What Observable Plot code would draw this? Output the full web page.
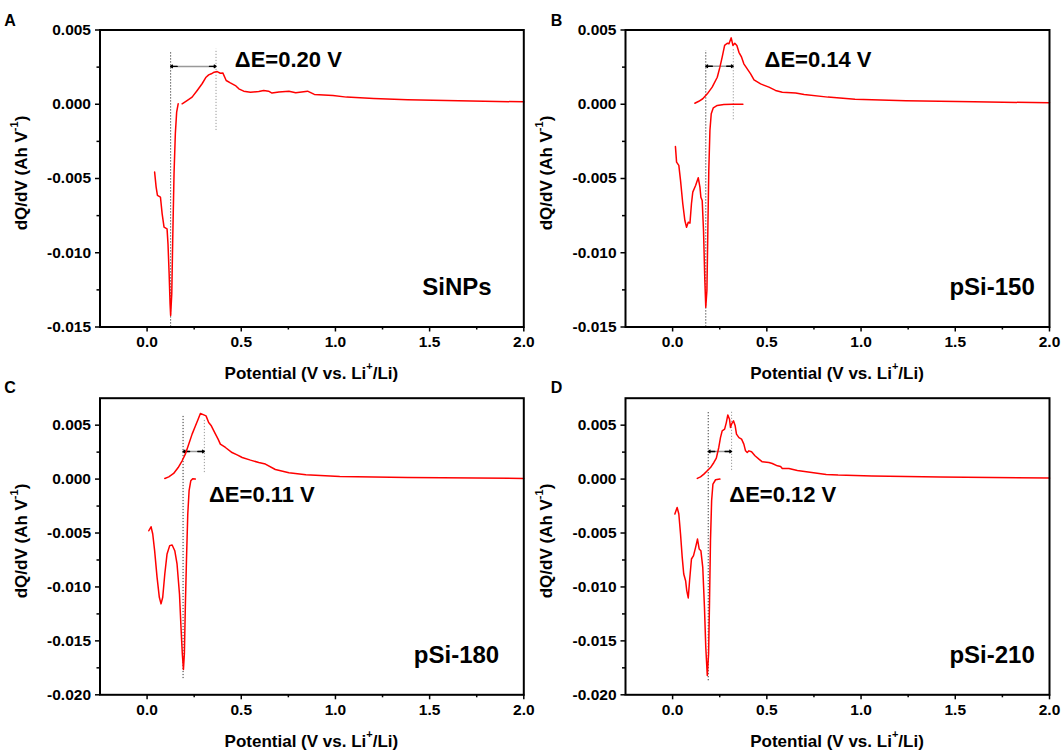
<!DOCTYPE html>
<html><head><meta charset="utf-8">
<script src="https://cdn.jsdelivr.net/npm/d3@7"></script>
<script src="https://cdn.jsdelivr.net/npm/@observablehq/plot@0.6"></script>
<style>
body{margin:0;background:#fff;}
#wrap{position:relative;width:1064px;height:754px;overflow:hidden;background:#fff;}
.panel{position:absolute;}
.panel svg{background:transparent !important;overflow:visible;}
</style></head><body><div id="wrap"></div>
<script>
// ---- data (V vs. Li+/Li, dQ/dV in Ah V^-1) ----
const panelIds = ["A", "B", "C", "D"];
const sampleNames = ["SiNPs", "pSi-150", "pSi-180", "pSi-210"];
const deltaLabels = ["ΔE=0.20 V", "ΔE=0.14 V", "ΔE=0.11 V", "ΔE=0.12 V"];
const xTicks = [0, 0.5, 1.0, 1.5, 2.0];
const xMinor = [0.25, 0.75, 1.25, 1.75];
const yTicksTop = [-0.015, -0.010, -0.005, 0, 0.005];
const yMinorTop = [-0.0125, -0.0075, -0.0025, 0.0025];
const yTicksBottom = [-0.020, -0.015, -0.010, -0.005, 0, 0.005];
const yMinorBottom = [-0.0175, -0.0125, -0.0075, -0.0025, 0.0025];

const dischargeA = [[0.040,-0.00457],[0.048,-0.00558],[0.055,-0.00614],[0.071,-0.00626],[0.080,-0.00738],[0.090,-0.00828],[0.106,-0.00839],[0.111,-0.0094],[0.117,-0.0114],[0.122,-0.01344],[0.125,-0.01422],[0.131,-0.01277],[0.136,-0.00918],[0.143,-0.00469],[0.150,-0.00199],[0.157,-0.00053],[0.165,0.00003]];
const chargeA = [[0.186,0.00003],[0.212,0.00025],[0.239,0.00048],[0.266,0.00093],[0.292,0.00138],[0.313,0.00182],[0.327,0.00198],[0.341,0.00205],[0.356,0.00216],[0.372,0.0022],[0.389,0.00209],[0.402,0.00211],[0.420,0.0016],[0.442,0.00144],[0.469,0.00126],[0.487,0.00104],[0.513,0.00088],[0.549,0.00081],[0.593,0.00086],[0.619,0.00093],[0.645,0.00088],[0.663,0.00075],[0.700,0.00083],[0.753,0.00088],[0.789,0.00077],[0.852,0.00088],[0.888,0.00066],[0.987,0.00059],[1.059,0.00048],[1.203,0.00039],[1.383,0.0003],[1.654,0.00023],[2.0,0.00016]];

const dischargeB = [[0.015,-0.00285],[0.021,-0.0039],[0.033,-0.00412],[0.042,-0.00513],[0.054,-0.0067],[0.065,-0.00783],[0.074,-0.00828],[0.083,-0.00794],[0.092,-0.00801],[0.100,-0.0067],[0.107,-0.00592],[0.122,-0.00547],[0.136,-0.00495],[0.145,-0.00558],[0.150,-0.00626],[0.157,-0.00648],[0.164,-0.0085],[0.171,-0.01187],[0.176,-0.01367],[0.182,-0.01254],[0.187,-0.0085],[0.192,-0.00446],[0.198,-0.00177],[0.205,-0.00064],[0.216,-0.00024],[0.237,-0.00008],[0.272,-0.00002],[0.316,0],[0.373,0]];
const chargeB = [[0.118,0.00007],[0.139,0.0002],[0.160,0.00037],[0.184,0.0007],[0.210,0.00115],[0.237,0.00182],[0.251,0.0025],[0.263,0.00317],[0.276,0.00396],[0.290,0.00411],[0.299,0.00407],[0.311,0.00447],[0.320,0.00396],[0.330,0.00411],[0.341,0.00396],[0.352,0.0035],[0.366,0.00317],[0.378,0.00272],[0.396,0.00238],[0.414,0.00205],[0.432,0.00164],[0.467,0.00137],[0.511,0.00115],[0.546,0.00093],[0.582,0.00081],[0.653,0.00075],[0.698,0.00066],[0.824,0.00048],[0.968,0.00034],[1.238,0.00023],[1.598,0.00016],[2.0,0.0001]];

const dischargeC = [[0.009,-0.00479],[0.021,-0.00442],[0.030,-0.00509],[0.040,-0.00664],[0.053,-0.00911],[0.065,-0.01096],[0.074,-0.01157],[0.083,-0.01096],[0.094,-0.0088],[0.106,-0.00694],[0.120,-0.00617],[0.133,-0.00611],[0.147,-0.00664],[0.159,-0.00787],[0.172,-0.01065],[0.180,-0.01374],[0.187,-0.0162],[0.193,-0.01765],[0.198,-0.0162],[0.203,-0.01189],[0.209,-0.00756],[0.216,-0.00324],[0.223,-0.00108],[0.232,-0.00016],[0.242,0.00003],[0.256,0]];
const chargeC = [[0.094,0.00006],[0.115,0.00021],[0.141,0.00052],[0.165,0.00107],[0.186,0.0017],[0.203,0.00231],[0.221,0.00324],[0.239,0.00417],[0.257,0.00494],[0.271,0.00555],[0.283,0.00608],[0.301,0.00595],[0.313,0.00586],[0.327,0.00524],[0.341,0.00494],[0.359,0.00431],[0.377,0.0037],[0.389,0.00324],[0.416,0.00293],[0.451,0.00246],[0.478,0.00225],[0.505,0.002],[0.549,0.00176],[0.593,0.00154],[0.628,0.00139],[0.681,0.00089],[0.753,0.00058],[0.843,0.0004],[1.023,0.00024],[1.383,0.00015],[2.0,0.00006]];

const dischargeD = [[0.012,-0.00324],[0.024,-0.00263],[0.033,-0.00324],[0.042,-0.00509],[0.051,-0.00726],[0.059,-0.0088],[0.069,-0.00942],[0.075,-0.01034],[0.083,-0.01102],[0.090,-0.00942],[0.100,-0.00741],[0.111,-0.0071],[0.122,-0.00633],[0.132,-0.00556],[0.141,-0.00648],[0.150,-0.00664],[0.160,-0.00818],[0.169,-0.01189],[0.176,-0.01559],[0.184,-0.01821],[0.191,-0.0162],[0.196,-0.01127],[0.201,-0.00571],[0.207,-0.00201],[0.214,-0.00046],[0.228,-0.00006],[0.251,0]];
const chargeD = [[0.131,0.00006],[0.148,0.00021],[0.166,0.00046],[0.184,0.00077],[0.201,0.00107],[0.219,0.00154],[0.232,0.00194],[0.245,0.00293],[0.254,0.00385],[0.263,0.00447],[0.276,0.00463],[0.285,0.00524],[0.293,0.00595],[0.302,0.00555],[0.307,0.00478],[0.314,0.00515],[0.323,0.0054],[0.332,0.00494],[0.339,0.00417],[0.352,0.00385],[0.366,0.0037],[0.378,0.00324],[0.387,0.00262],[0.396,0.00246],[0.405,0.00262],[0.419,0.00253],[0.437,0.00216],[0.458,0.00185],[0.476,0.0016],[0.511,0.00154],[0.529,0.00144],[0.556,0.00123],[0.573,0.00117],[0.582,0.00098],[0.617,0.00098],[0.662,0.0008],[0.815,0.00043],[0.878,0.00037],[1.058,0.00028],[1.419,0.00019],[2.0,0.00009]];

// peak potentials [reduction, oxidation]
const peaks = [[0.125, 0.366], [0.176, 0.322], [0.191, 0.304], [0.189, 0.313]];
// vertical extent of the dotted guide at the reduction / oxidation peak
const redGuide = [[-0.015, 0.0035], [-0.015, 0.0036], [-0.0185, 0.0059], [-0.0187, 0.0062]];
const oxGuide = [[-0.00177, 0.0037], [-0.00105, 0.0038], [0.0006, 0.0056], [0.0008, 0.0063]];
const arrowLevel = [0.00255, 0.00256, 0.00256, 0.00256];
const deltaAnchor = [[0.466, 0.0030], [0.488, 0.0030], [0.329, -0.00148], [0.301, -0.00148]];
const nameAnchor = [[1.461, -0.01232], [1.469, -0.01232], [1.416, -0.01633], [1.469, -0.01633]];

const discharges = [dischargeA, dischargeB, dischargeC, dischargeD];
const charges = [chargeA, chargeB, chargeC, chargeD];

// ---- layout ----
const W = 532, H = 377;
const FONT = "'Liberation Sans', Arial, Helvetica, sans-serif";
const layout = [
  {left: 0, top: 0, ml: 99.5, mr: 8.7, mt: 29.5, mb: 50.5, yDomain: [-0.015, 0.005], yT: yTicksTop, yM: yMinorTop, letterX: 10, letterY: 26},
  {left: 532, top: 0, ml: 93, mr: 15, mt: 29.5, mb: 50.5, yDomain: [-0.015, 0.005], yT: yTicksTop, yM: yMinorTop, letterX: 24.5, letterY: 26},
  {left: 0, top: 377, ml: 99.5, mr: 8.7, mt: 20.7, mb: 59.7, yDomain: [-0.020, 0.0075], yT: yTicksBottom, yM: yMinorBottom, letterX: 10, letterY: 16},
  {left: 532, top: 377, ml: 93, mr: 15, mt: 20.7, mb: 59.7, yDomain: [-0.020, 0.0075], yT: yTicksBottom, yM: yMinorBottom, letterX: 24.5, letterY: 16}
];

const wrap = document.getElementById("wrap");

layout.forEach((L, i) => {
  const [pr, po] = peaks[i];
  const guides = [{x: pr, y1: redGuide[i][0], y2: redGuide[i][1]}];
  const guides2 = [{x: po, y1: oxGuide[i][0], y2: oxGuide[i][1]}];
  const ay = arrowLevel[i];
  const heads = [
    {x1: pr + 0.035, x2: pr, y: ay},
    {x1: po - 0.035, x2: po, y: ay}
  ];
  const svg = Plot.plot({
    width: W, height: H,
    marginLeft: L.ml, marginRight: L.mr, marginTop: L.mt, marginBottom: L.mb,
    x: {domain: [-0.25, 2.0]},
    y: {domain: L.yDomain},
    style: {fontFamily: FONT, fontSize: "15.5px", fontWeight: "bold", color: "#000", background: "transparent", overflow: "visible"},
    marks: [
      Plot.axisX({ticks: xTicks, tickSize: 5, tickPadding: 4, strokeWidth: 1.5, tickFormat: d => d.toFixed(1), label: null}),
      Plot.axisX({ticks: xMinor, tickSize: 3, strokeWidth: 1.5, tickFormat: () => "", label: null}),
      Plot.axisY({ticks: L.yT, tickSize: 4.5, tickPadding: 4.5, strokeWidth: 1.5, tickFormat: d => d.toFixed(3), label: null}),
      Plot.axisY({ticks: L.yM, tickSize: 3, strokeWidth: 1.5, tickFormat: () => "", label: null}),
      Plot.ruleX(guides, {x: "x", y1: "y1", y2: "y2", stroke: "#333", strokeWidth: 1, strokeDasharray: "1.2,1.8"}),
      Plot.ruleX(guides2, {x: "x", y1: "y1", y2: "y2", stroke: "#999", strokeWidth: 1, strokeDasharray: "1.2,1.8"}),
      Plot.ruleY([{x1: pr, x2: po, y: ay}], {x1: "x1", x2: "x2", y: "y", stroke: "#999", strokeWidth: 1.5}),
      Plot.arrow(heads, {x1: "x1", x2: "x2", y1: "y", y2: "y", stroke: "#000", strokeWidth: 1.3, headLength: 6, headAngle: 70}),
      Plot.line(discharges[i], {x: d => d[0], y: d => d[1], stroke: "#ff0000", strokeWidth: 1.5}),
      Plot.line(charges[i], {x: d => d[0], y: d => d[1], stroke: "#ff0000", strokeWidth: 1.5}),
      Plot.frame({stroke: "#000", strokeWidth: 2}),
      Plot.text([deltaLabels[i]], {x: deltaAnchor[i][0], y: deltaAnchor[i][1], text: d => d, textAnchor: "start", lineAnchor: "middle", fontSize: 22, fontWeight: "bold", fill: "#000"}),
      Plot.text([sampleNames[i]], {x: nameAnchor[i][0], y: nameAnchor[i][1], text: d => d, textAnchor: "start", lineAnchor: "middle", fontSize: 24, fontWeight: "bold", fill: "#000"})
    ]
  });

  const s = d3.select(svg);
  s.append("text").attr("x", L.letterX).attr("y", L.letterY)
    .attr("font-family", FONT).attr("font-size", 16).attr("font-weight", "bold").attr("fill", "#000")
    .text(panelIds[i]);
  const plotBottom = H - L.mb;
  const cx = (L.ml + (W - L.mr)) / 2;
  const xl = s.append("text").attr("x", cx).attr("y", plotBottom + 46.5)
    .attr("text-anchor", "middle").attr("dominant-baseline", "central")
    .attr("font-family", FONT).attr("font-size", 17).attr("font-weight", "bold").attr("fill", "#000");
  xl.append("tspan").text("Potential (V vs. Li");
  xl.append("tspan").attr("dy", -7).attr("font-size", 11).text("+");
  xl.append("tspan").attr("dy", 7).text("/Li)");
  const cy = (L.mt + plotBottom) / 2 - 5;
  const yl = s.append("text").attr("transform", `translate(${L.ml - 79},${cy}) rotate(-90)`)
    .attr("text-anchor", "middle").attr("dominant-baseline", "central")
    .attr("font-family", FONT).attr("font-size", 17).attr("font-weight", "bold").attr("fill", "#000");
  yl.append("tspan").text("dQ/dV (Ah V");
  yl.append("tspan").attr("dy", -7).attr("font-size", 11).text("-1");
  yl.append("tspan").attr("dy", 7).text(")");

  const div = document.createElement("div");
  div.className = "panel";
  div.style.left = L.left + "px";
  div.style.top = L.top + "px";
  div.style.width = W + "px";
  div.style.height = H + "px";
  div.appendChild(svg);
  wrap.appendChild(div);
});
</script>
</body></html>
